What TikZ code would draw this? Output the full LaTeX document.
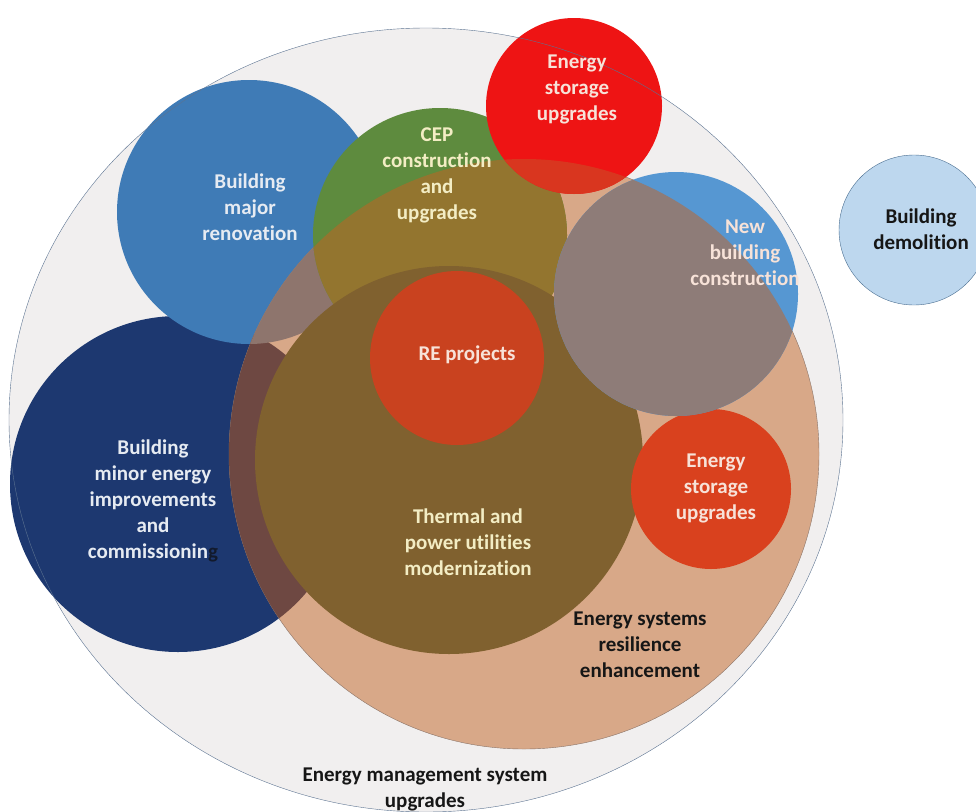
\documentclass[tikz,border=0pt]{standalone}
\usepackage{fontspec}
\setmainfont{Carlito}[Ligatures=NoCommon]
\usepackage{tikz,xcolor}

\definecolor{emsfill}{HTML}{F1EFEF}
\definecolor{emsline}{HTML}{5C7391}
\definecolor{minorcol}{HTML}{1D3870}
\definecolor{renocol}{HTML}{3F7BB6}
\definecolor{rescol}{HTML}{D8A888}
\definecolor{resline}{HTML}{8A7468}
\definecolor{maroon}{HTML}{6E4842}
\definecolor{mauve}{HTML}{8E756D}
\definecolor{cepcol}{HTML}{5E8B3E}
\definecolor{olive}{HTML}{93752F}
\definecolor{thermcol}{HTML}{80612F}
\definecolor{recol}{HTML}{C9421F}
\definecolor{topred}{HTML}{EE1414}
\definecolor{topreddark}{HTML}{D9361F}
\definecolor{newcol}{HTML}{5697D2}
\definecolor{taupe}{HTML}{8E7C78}
\definecolor{storecol}{HTML}{D9411E}
\definecolor{demofill}{HTML}{BDD7EE}
\definecolor{demoline}{HTML}{4A6E90}
\definecolor{paletext}{HTML}{E6EBF2}
\definecolor{cremetext}{HTML}{F3EDC4}
\definecolor{pinktext}{HTML}{F7E2D8}
\definecolor{darktext}{HTML}{161616}
\definecolor{blotcol}{HTML}{121A2C}

\tikzstyle{lbl} = [align=center, inner sep=0pt, font=\bfseries\fontsize{21}{26}\selectfont]

\begin{document}
\begin{tikzpicture}[x=1pt,y=-1pt]
    \useasboundingbox (0,0) rectangle (976,811);
    % centres of the circles
    \coordinate (ems) at (426,420);
    \coordinate (minor) at (178,484);
    \coordinate (reno) at (249,212);
    \coordinate (res) at (524,454);
    \coordinate (cep) at (440,235);
    \coordinate (therm) at (449,460);
    \coordinate (re) at (457,358);
    \coordinate (store1) at (574,106);
    \coordinate (newb) at (676,294);
    \coordinate (store2) at (711,489);
    \coordinate (demo) at (914,230);
    % draw the circles
    \fill[emsfill] (ems) ellipse (417pt and 392pt);
    \fill[minorcol] (minor) circle (168pt);
    \fill[renocol] (reno) circle (132pt);
    \filldraw[fill=rescol, draw=resline, thin] (res) circle (295pt);
    \begin{scope}
        \clip (res) circle (295pt);
        \fill[maroon] (minor) circle (168pt);
        \fill[mauve] (reno) circle (132pt);
    \end{scope}
    \fill[cepcol] (cep) circle (127pt);
    \begin{scope}
        \clip (res) circle (295pt);
        \fill[olive] (cep) circle (127pt);
    \end{scope}
    \fill[thermcol] (therm) circle (194pt);
    \fill[recol] (re) circle (87pt);
    \fill[topred] (store1) circle (88pt);
    \begin{scope}
        \clip (res) circle (295pt);
        \fill[topreddark] (store1) circle (88pt);
    \end{scope}
    \fill[storecol] (store2) circle (80pt);
    \fill[newcol] (newb) circle (122pt);
    \begin{scope}
        \clip (res) circle (295pt);
        \fill[taupe] (newb) circle (122pt);
    \end{scope}
    \draw[emsline, thin] (ems) ellipse (417pt and 392pt);
    \filldraw[fill=demofill, draw=demoline, thin] (demo) circle (75pt);
    % create the labels
    \node (renolbl)[lbl, text=paletext] at (250,207) {Building\\major\\renovation};
    \node (ceplbl)[lbl, text=cremetext] at (437,175) {CEP\\construction\\and\\upgrades};
    \node (store1lbl)[lbl, text=pinktext] at (577,89) {Energy\\storage\\upgrades};
    \node (newblbl)[lbl, text=pinktext] at (745,253) {New\\building\\construction};
    \node (demolbl)[lbl, text=darktext] at (921,229) {Building\\demolition};
    \node (relbl)[lbl, text=pinktext] at (467,355) {RE projects};
    \node (minorlbl)[lbl, text=paletext] at (153,501) {Building\\minor energy\\improvements\\and\\commissionin\textcolor{blotcol}{g}};
    \node (thermlbl)[lbl, text=cremetext] at (468,542) {Thermal and\\power utilities\\modernization};
    \node (store2lbl)[lbl, text=pinktext] at (716,488) {Energy\\storage\\upgrades};
    \node (reslbl)[lbl, text=darktext] at (640,645) {Energy systems\\resilience\\enhancement};
    \node (emslbl)[lbl, text=darktext] at (425,789) {Energy management system\\upgrades};
\end{tikzpicture}
\end{document}
